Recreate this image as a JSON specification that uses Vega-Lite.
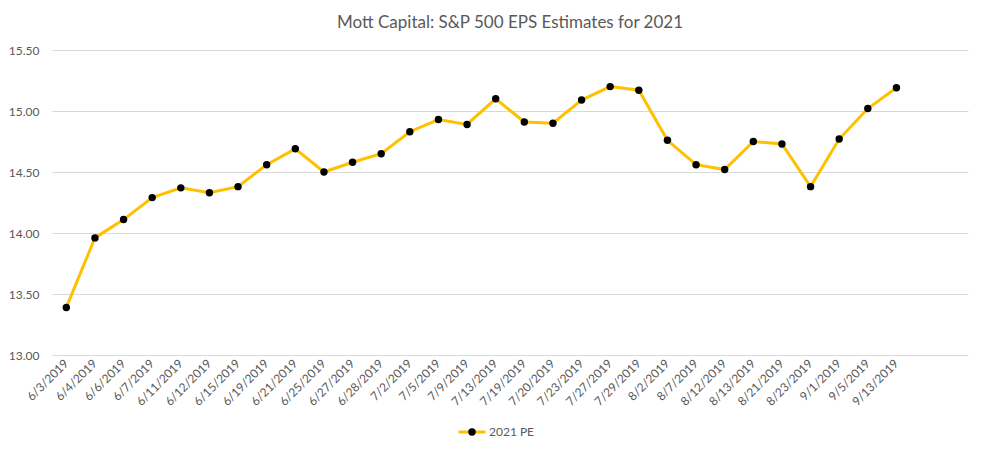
{
  "$schema": "https://vega.github.io/schema/vega-lite/v6.json",
  "autosize": {"type": "none"},
  "width": 916,
  "height": 305,
  "padding": {"left": 52, "top": 50, "right": 15, "bottom": 95},
  "background": "white",
  "config": {
    "view": {"stroke": null},
    "font": "Lato",
    "axis": {"labelFont": "Lato", "labelColor": "#595959", "labelFontSize": 12},
    "legend": {"labelFont": "Lato", "labelColor": "#595959", "labelFontSize": 12}
  },
  "title": {
    "text": "Mott Capital: S&P 500 EPS Estimates for 2021",
    "fontSize": 17,
    "fontWeight": "normal",
    "color": "#595959",
    "font": "Lato",
    "anchor": "middle",
    "offset": 12
  },
  "data": {
    "values": [
      {"date": "6/3/2019", "pe": 13.39, "series": "2021 PE"},
      {"date": "6/4/2019", "pe": 13.96, "series": "2021 PE"},
      {"date": "6/6/2019", "pe": 14.11, "series": "2021 PE"},
      {"date": "6/7/2019", "pe": 14.29, "series": "2021 PE"},
      {"date": "6/11/2019", "pe": 14.37, "series": "2021 PE"},
      {"date": "6/12/2019", "pe": 14.33, "series": "2021 PE"},
      {"date": "6/15/2019", "pe": 14.38, "series": "2021 PE"},
      {"date": "6/19/2019", "pe": 14.56, "series": "2021 PE"},
      {"date": "6/21/2019", "pe": 14.69, "series": "2021 PE"},
      {"date": "6/25/2019", "pe": 14.50, "series": "2021 PE"},
      {"date": "6/27/2019", "pe": 14.58, "series": "2021 PE"},
      {"date": "6/28/2019", "pe": 14.65, "series": "2021 PE"},
      {"date": "7/2/2019", "pe": 14.83, "series": "2021 PE"},
      {"date": "7/5/2019", "pe": 14.93, "series": "2021 PE"},
      {"date": "7/9/2019", "pe": 14.89, "series": "2021 PE"},
      {"date": "7/13/2019", "pe": 15.10, "series": "2021 PE"},
      {"date": "7/19/2019", "pe": 14.91, "series": "2021 PE"},
      {"date": "7/20/2019", "pe": 14.90, "series": "2021 PE"},
      {"date": "7/23/2019", "pe": 15.09, "series": "2021 PE"},
      {"date": "7/27/2019", "pe": 15.20, "series": "2021 PE"},
      {"date": "7/29/2019", "pe": 15.17, "series": "2021 PE"},
      {"date": "8/2/2019", "pe": 14.76, "series": "2021 PE"},
      {"date": "8/7/2019", "pe": 14.56, "series": "2021 PE"},
      {"date": "8/12/2019", "pe": 14.52, "series": "2021 PE"},
      {"date": "8/13/2019", "pe": 14.75, "series": "2021 PE"},
      {"date": "8/21/2019", "pe": 14.73, "series": "2021 PE"},
      {"date": "8/23/2019", "pe": 14.38, "series": "2021 PE"},
      {"date": "9/1/2019", "pe": 14.77, "series": "2021 PE"},
      {"date": "9/5/2019", "pe": 15.02, "series": "2021 PE"},
      {"date": "9/13/2019", "pe": 15.19, "series": "2021 PE"}
    ]
  },
  "encoding": {
    "x": {
      "field": "date",
      "type": "ordinal",
      "sort": null,
      "scale": {"type": "band", "paddingInner": 0, "paddingOuter": 1, "align": 0},
      "axis": {
        "title": null,
        "labelAngle": -45,
        "labelAlign": "right",
        "labelBaseline": "middle",
        "labelPadding": 6,
        "domain": false,
        "ticks": false,
        "grid": false,
        "labelOverlap": false
      }
    },
    "y": {
      "field": "pe",
      "type": "quantitative",
      "scale": {"domain": [13, 15.5], "zero": false, "nice": false},
      "axis": {
        "title": null,
        "values": [13, 13.5, 14, 14.5, 15, 15.5],
        "format": ".2f",
        "domain": false,
        "ticks": false,
        "labelPadding": 13,
        "gridColor": "#d9d9d9",
        "gridWidth": 1
      }
    }
  },
  "layer": [
    {
      "mark": {"type": "line", "strokeWidth": 3},
      "encoding": {
        "color": {
          "field": "series",
          "type": "nominal",
          "scale": {"range": ["#FFC000"]},
          "legend": {
            "title": null,
            "orient": "none",
            "legendX": 405,
            "legendY": 367,
            "symbolType": "stroke",
            "symbolStrokeWidth": 3,
            "symbolSize": 729,
            "labelOffset": 2
          }
        }
      }
    },
    {
      "mark": {"type": "point", "filled": true, "size": 55, "opacity": 1},
      "encoding": {
        "fill": {
          "field": "series",
          "type": "nominal",
          "scale": {"range": ["#000000"]},
          "legend": {
            "title": null,
            "orient": "none",
            "legendX": 414,
            "legendY": 376,
            "symbolType": "circle",
            "symbolSize": 55,
            "symbolOpacity": 1,
            "labelExpr": "''"
          }
        }
      }
    }
  ]
}
